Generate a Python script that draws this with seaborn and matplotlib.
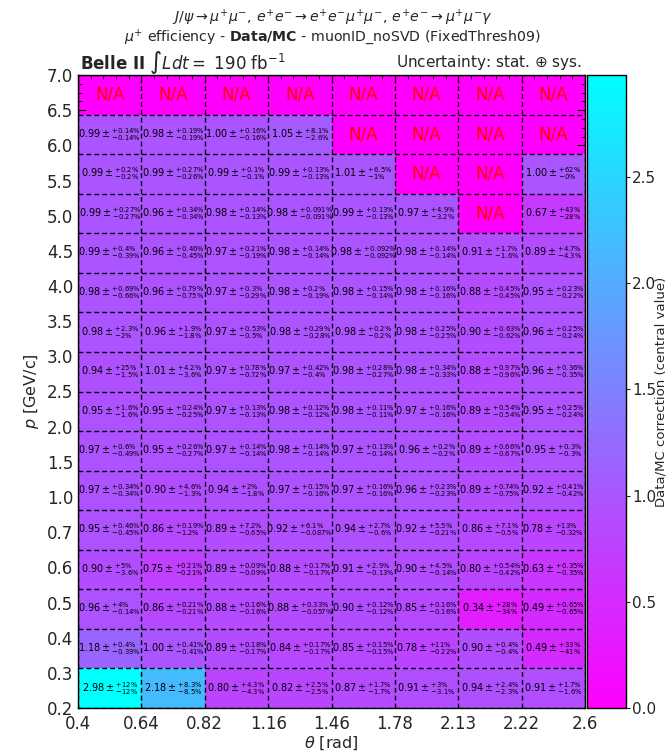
import numpy as np
import pandas as pd
import matplotlib
matplotlib.use("Agg")
import matplotlib.pyplot as plt
import seaborn as sns
from matplotlib.ticker import AutoMinorLocator

nan = np.nan
theta_labels = ["0.4", "0.64", "0.82", "1.16", "1.46", "1.78", "2.13", "2.22", "2.6"]
p_labels = ["7.0", "6.5", "6.0", "5.5", "5.0", "4.5", "4.0", "3.5", "3.0", "2.5",
            "2.0", "1.5", "1.0", "0.7", "0.6", "0.5", "0.4", "0.3", "0.2"]

# rows listed from top (high p) to bottom (low p)
central = [
    [nan, nan, nan, nan, nan, nan, nan, nan],
    [0.99, 0.98, 1.00, 1.05, nan, nan, nan, nan],
    [0.99, 0.99, 0.99, 0.99, 1.01, nan, nan, 1.00],
    [0.99, 0.96, 0.98, 0.98, 0.99, 0.97, nan, 0.67],
    [0.99, 0.96, 0.97, 0.98, 0.98, 0.98, 0.91, 0.89],
    [0.98, 0.96, 0.97, 0.98, 0.98, 0.98, 0.88, 0.95],
    [0.98, 0.96, 0.97, 0.98, 0.98, 0.98, 0.90, 0.96],
    [0.94, 1.01, 0.97, 0.97, 0.98, 0.98, 0.88, 0.96],
    [0.95, 0.95, 0.97, 0.98, 0.98, 0.97, 0.89, 0.95],
    [0.97, 0.95, 0.97, 0.98, 0.97, 0.96, 0.89, 0.95],
    [0.97, 0.90, 0.94, 0.97, 0.97, 0.96, 0.89, 0.92],
    [0.95, 0.86, 0.89, 0.92, 0.94, 0.92, 0.86, 0.78],
    [0.90, 0.75, 0.89, 0.88, 0.91, 0.90, 0.80, 0.63],
    [0.96, 0.86, 0.88, 0.88, 0.90, 0.85, 0.34, 0.49],
    [1.18, 1.00, 0.89, 0.84, 0.85, 0.78, 0.90, 0.49],
    [2.98, 2.18, 0.80, 0.82, 0.87, 0.91, 0.94, 0.91],
]
err_up = [
    [nan, nan, nan, nan, nan, nan, nan, nan],
    [0.14, 0.19, 0.16, 8.1, nan, nan, nan, nan],
    [0.2, 0.27, 0.1, 0.13, 6.5, nan, nan, 62],
    [0.27, 0.34, 0.14, 0.091, 0.13, 4.9, nan, 43],
    [0.4, 0.46, 0.21, 0.14, 0.092, 0.14, 1.7, 4.7],
    [0.69, 0.79, 0.3, 0.2, 0.15, 0.16, 0.45, 0.23],
    [2.3, 1.9, 0.53, 0.29, 0.2, 0.25, 0.63, 0.25],
    [25, 4.2, 0.78, 0.42, 0.28, 0.34, 0.97, 0.36],
    [1.6, 0.24, 0.13, 0.12, 0.11, 0.16, 0.54, 0.25],
    [0.6, 0.26, 0.14, 0.14, 0.13, 0.2, 0.66, 0.3],
    [0.34, 4.6, 2, 0.15, 0.16, 0.23, 0.74, 0.41],
    [0.46, 0.19, 7.2, 6.1, 2.7, 5.5, 7.1, 13],
    [5, 0.21, 0.09, 0.17, 2.9, 4.5, 0.54, 0.35],
    [4, 0.21, 0.16, 0.33, 0.12, 0.16, 28, 0.65],
    [0.4, 0.41, 0.18, 0.17, 0.15, 11, 0.4, 33],
    [12, 8.3, 4.3, 2.5, 1.7, 3, 2.4, 1.7],
]
err_dn = [
    [nan, nan, nan, nan, nan, nan, nan, nan],
    [0.14, 0.19, 0.16, 2.6, nan, nan, nan, nan],
    [0.2, 0.26, 0.1, 0.13, 1, nan, nan, 0],
    [0.27, 0.34, 0.13, 0.091, 0.13, 3.2, nan, 28],
    [0.39, 0.45, 0.19, 0.14, 0.092, 0.14, 1.6, 4.3],
    [0.66, 0.75, 0.29, 0.19, 0.14, 0.16, 0.45, 0.22],
    [2, 1.8, 0.5, 0.28, 0.2, 0.25, 0.62, 0.24],
    [1.5, 3.6, 0.72, 0.4, 0.27, 0.33, 0.96, 0.35],
    [1.6, 0.25, 0.13, 0.12, 0.11, 0.16, 0.54, 0.24],
    [0.49, 0.27, 0.14, 0.14, 0.14, 0.2, 0.67, 0.3],
    [0.34, 1.3, 1.8, 0.16, 0.16, 0.23, 0.75, 0.42],
    [0.45, 1.2, 0.65, 0.087, 0.6, 0.21, 0.5, 0.32],
    [3.6, 0.21, 0.09, 0.17, 0.13, 0.14, 0.42, 0.35],
    [0.14, 0.21, 0.16, 0.057, 0.12, 0.16, 34, 0.65],
    [0.39, 0.41, 0.17, 0.17, 0.15, 0.22, 0.4, 41],
    [12, 8.5, 4.3, 2.5, 1.7, 3.1, 2.3, 1.6],
]

vals = np.array(central, dtype=float)
up = np.array(err_up, dtype=float)
dn = np.array(err_dn, dtype=float)
nrow, ncol = vals.shape

sns.set_style("ticks")
plt.rcParams["font.family"] = ["DejaVu Sans"]
plt.rcParams["mathtext.fontset"] = "dejavusans"

fig = plt.figure(figsize=(6.68, 7.54), dpi=100)
ax = fig.add_axes([78 / 668, 1 - 708 / 754, 507 / 668, 633 / 754])
cax = fig.add_axes([587 / 668, 1 - 708 / 754, 39 / 668, 633 / 754])

cmap = plt.get_cmap("cool_r")
df = pd.DataFrame(vals)
sns.heatmap(df, cmap=cmap, vmin=0, vmax=np.nanmax(vals), ax=ax, cbar_ax=cax,
            xticklabels=False, yticklabels=False)
ax.set_facecolor(cmap(0.0))

# dashed cell grid
for i in range(nrow + 1):
    ax.axhline(i, color="black", lw=1.0, ls=(0, (3.5, 2.2)))
for j in range(ncol + 1):
    ax.axvline(j, color="black", lw=1.0, ls=(0, (3.5, 2.2)))

# annotations
for i in range(nrow):
    for j in range(ncol):
        if np.isnan(vals[i, j]):
            ax.text(j + 0.5, i + 0.5, "N/A", color="red", ha="center", va="center",
                    fontsize=12)
        else:
            s = (r"$%.2f \pm {}^{+%s\%%}_{-%s\%%}$"
                 % (vals[i, j], format(up[i, j], "g"), format(dn[i, j], "g")))
            ax.text(j + 0.5, i + 0.5, s, color="black", ha="center", va="center",
                    fontsize=7)

for sp in ax.spines.values():
    sp.set_visible(True)
    sp.set_color("black")
    sp.set_linewidth(1.0)

ax.set_xticks(np.arange(ncol + 1))
ax.set_xticklabels(theta_labels)
ax.set_yticks(np.linspace(0, nrow, len(p_labels)))
ax.set_yticklabels(p_labels)
ax.xaxis.set_minor_locator(AutoMinorLocator(5))
ax.yaxis.set_minor_locator(AutoMinorLocator(4))
ax.tick_params(which="both", direction="in", top=True, right=True, labelsize=12,
               color="black")
ax.tick_params(which="major", length=6)
ax.tick_params(which="minor", length=3)
ax.tick_params(axis="x", pad=5)
ax.set_xlabel(r"$\theta$ [rad]", fontsize=11.5, labelpad=1)
ax.set_ylabel(r"$p$ [GeV/c]", fontsize=11.5, labelpad=4)

cb = ax.collections[0].colorbar
cb.outline.set_linewidth(1.0)
cb.outline.set_edgecolor("black")
cax.tick_params(labelsize=11, direction="out", length=3, pad=1.5)
cb.set_ticks([0.0, 0.5, 1.0, 1.5, 2.0, 2.5])
cb.set_label("Data/MC correction (central value)", fontsize=9.5)
cax.yaxis.set_label_coords(1.74, 0.5)

fig.text(0.497, 0.976,
         r"$J/\psi \rightarrow \mu^{+}\mu^{-},\, e^{+}e^{-} \rightarrow e^{+}e^{-}\mu^{+}\mu^{-},\, e^{+}e^{-} \rightarrow \mu^{+}\mu^{-}\gamma$",
         ha="center", va="center", fontsize=10.2)
fig.text(0.497, 0.951,
         r"$\mu^{+}$ efficiency - $\mathbf{Data/MC}$ - muonID_noSVD (FixedThresh09)",
         ha="center", va="center", fontsize=10.2)
fig.text(80 / 668, 1 - 63 / 754, r"$\mathbf{Belle\ II}$ $\int Ldt = $ 190 fb$^{-1}$",
         ha="left", va="center", fontsize=12)
fig.text(582 / 668, 1 - 63 / 754, r"Uncertainty: stat. $\oplus$ sys.",
         ha="right", va="center", fontsize=11)

fig.savefig("out.png", dpi=100)
